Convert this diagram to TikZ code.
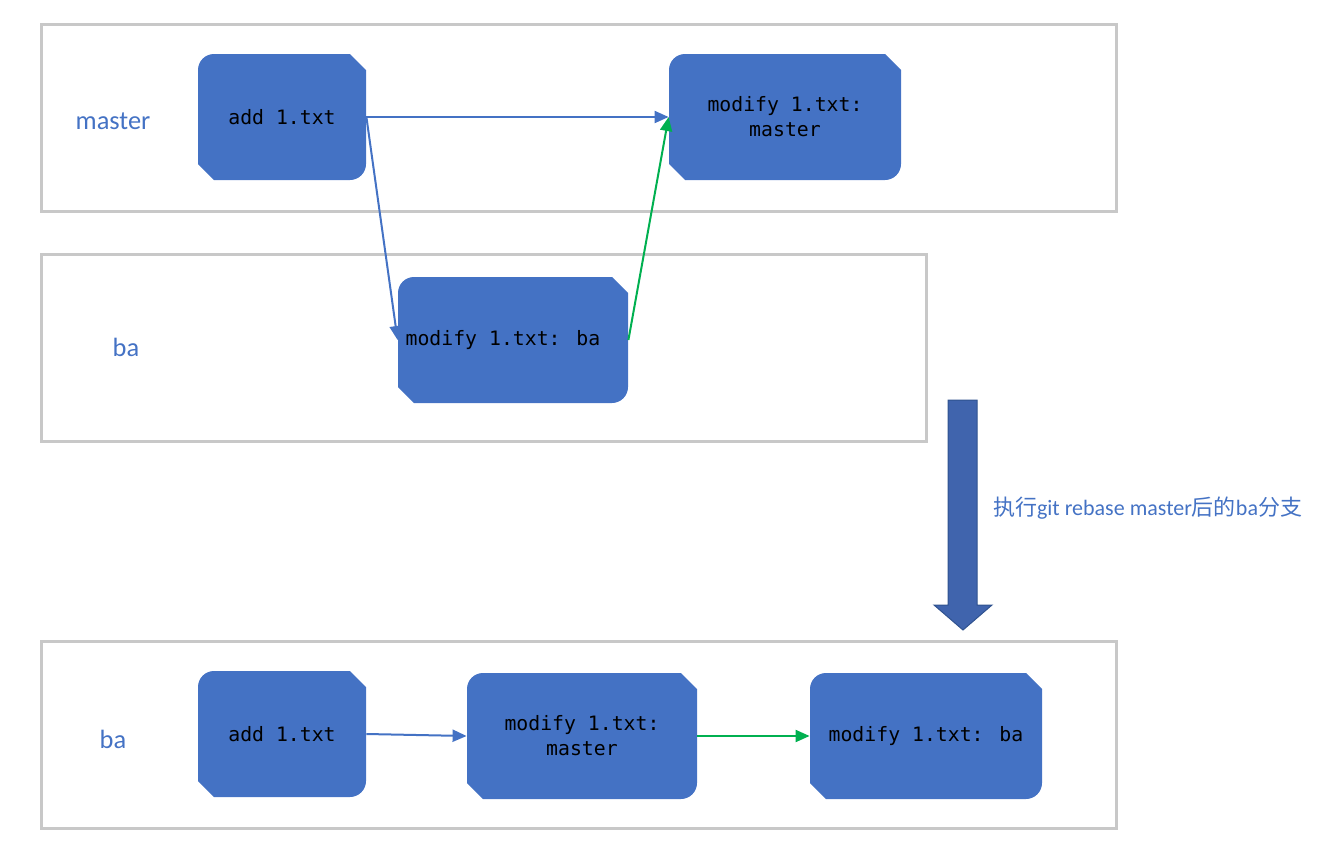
\documentclass[tikz,border=0pt]{standalone}
\usepackage{fontspec}
\setmainfont{Carlito}
\newfontfamily\cjk{Noto Sans CJK SC}
\newfontfamily\codefont{DejaVu Sans Mono}
\usepackage{tikz}
\usetikzlibrary{arrows.meta, positioning}

\definecolor{boxblue}{HTML}{4472C4}
\definecolor{framegray}{HTML}{C8C8C8}
\definecolor{mergegreen}{HTML}{00B050}
\definecolor{bigblue}{HTML}{4064AD}
\definecolor{bigedge}{HTML}{2F528F}

\begin{document}
\begin{tikzpicture}[x=0.5pt, y=-0.5pt,
		frame/.style={draw=framegray, line width=1.5pt},
		branchlabel/.style={text=boxblue, font=\fontsize{13.2}{15}\selectfont},
		commit/.style={rectangle, minimum height=63pt, inner sep=0pt, align=center,
			font=\codefont\fontsize{9.9}{12.5}\selectfont,
			path picture={
				\coordinate (sw) at (path picture bounding box.south west);
				\coordinate (ne) at (path picture bounding box.north east);
				\fill[boxblue] ([yshift=8pt]sw) -- ([yshift=-8pt]sw |- ne)
					arc[start angle=180, end angle=90, radius=8pt]
					-- ([xshift=-8pt]ne) -- ([yshift=-8pt]ne)
					-- ([yshift=8pt]ne |- sw)
					arc[start angle=0, end angle=-90, radius=8pt]
					-- ([xshift=8pt]sw) -- cycle;
			}},
		link/.style={draw=boxblue, line width=1pt, -{Triangle[length=7pt, width=6pt]}},
		merge/.style={link, draw=mergegreen, -{Triangle[length=7pt, width=6pt, fill=mergegreen]}}]
	
	\useasboundingbox (0,0) rectangle (1330,857);
	
	%% Rahmen
	\draw [frame] (41,24) rectangle (1116,211);
	\draw [frame] (41,254) rectangle (926,441);
	\draw [frame] (41,641) rectangle (1116,828);
	
	%% Zweignamen
	\node [branchlabel] (lblmaster) at (113,121) {master};
	\node [branchlabel] (lblba) at (126,347) {ba};
	\node [branchlabel] (lblnew) at (113,739) {ba};
	
	%% vor dem rebase
	\node [commit, minimum width=84pt] (add) at (282,117) {add 1.txt};
	\node [commit, minimum width=116pt] (modmaster) at (785,117) {modify 1.txt:\\master};
	\node [commit, minimum width=115pt] (modba) at (513,340) {modify 1.txt: ba\hspace*{10pt}};
	
	\draw [link] (add.east) -- (modmaster.west);
	\draw [link] (add.east) -- (modba.west);
	\draw [merge] (modba.east) -- (modmaster.west);
	
	%% Pfeil
	\fill [bigblue, draw=bigedge, line width=0.5pt] (948,400) -- (977,400) -- (977,605) -- (992,605)
		-- (963,630) -- (934,605) -- (948,605) -- cycle;
	\node [anchor=west, text=boxblue, font=\fontsize{11}{13}\selectfont] (note) at (986,508)
		{{\cjk 执行}git rebase master{\cjk 后的}ba{\cjk 分支}};
	
	%% nach dem rebase
	\node [commit, minimum width=84pt] (addnew) at (282,734) {add 1.txt};
	\node [commit, minimum width=115pt] (modmasternew) at (582,736) {modify 1.txt:\\master};
	\node [commit, minimum width=116pt] (modbanew) at (926,736) {modify 1.txt: ba};
	
	\draw [link] (addnew.east) -- (modmasternew.west);
	\draw [merge] (modmasternew.east) -- (modbanew.west);
\end{tikzpicture}
\end{document}
